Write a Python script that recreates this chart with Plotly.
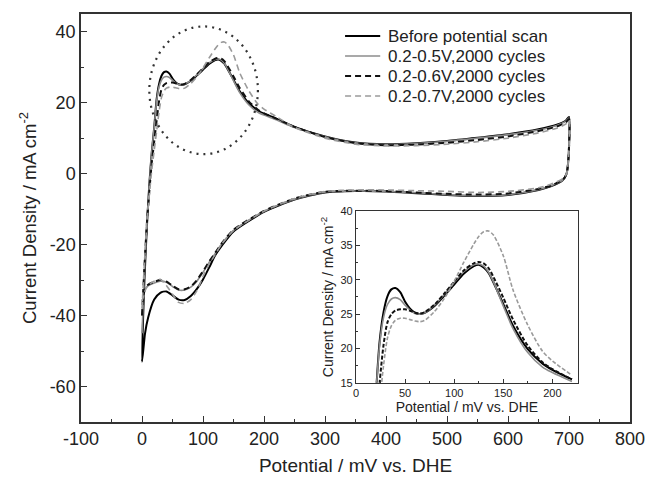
import plotly.graph_objects as go

# ---------------- data ----------------
E_ANODIC = [0, 4, 8, 12, 16, 20, 24, 28, 32, 36, 40, 45, 50, 55, 60, 65, 70, 80, 90,
            100, 110, 120, 125, 130, 135, 140, 150, 160, 175, 190, 200, 220, 250, 300,
            350, 400, 450, 500, 550, 600, 650, 680, 695, 700]
E_CATHODIC = [700, 699, 696, 690, 670, 650, 600, 550, 500, 450, 400, 350, 300, 250, 200, 150,
              130, 120, 110, 100, 90, 80, 70, 60, 50, 40, 30, 20, 10, 5, 0]

SERIES_NAMES = ["Before potential scan", "0.2-0.5V,2000 cycles",
                "0.2-0.6V,2000 cycles", "0.2-0.7V,2000 cycles"]

ANODIC_BEFORE = [-53, -30, -15, -3, 6, 13, 21, 25.3, 27.6, 28.6, 28.8, 28.2, 26.8, 25.8, 25.2,
                 25.0, 25.2, 26.2, 27.7, 29.3, 30.9, 32.0, 32.2, 31.8, 31.0, 29.6, 26.5, 23.3,
                 19.9, 17.8, 16.9, 15.5, 13.2, 10.5, 8.8, 8.3, 8.6, 9.2, 10.1, 11.1, 12.5, 13.8,
                 15.0, 16.0]
ANODIC_05 = [-45, -28, -14, -3, 6, 13, 20.5, 24.5, 26.4, 27.2, 27.4, 27.1, 26.3, 25.6, 25.1,
             25.0, 25.2, 26.3, 27.9, 29.6, 31.2, 32.2, 32.3, 32.0, 31.1, 29.7, 26.2, 22.9,
             19.4, 17.3, 16.5, 15.2, 13.0, 10.4, 8.7, 8.2, 8.5, 9.1, 10.0, 11.0, 12.3, 13.6,
             14.8, 15.7]
ANODIC_06 = [-40, -26, -14, -5, 3, 9, 15, 20.5, 23.8, 25.0, 25.5, 25.7, 25.7, 25.5, 25.2,
             25.1, 25.3, 26.4, 28.0, 29.7, 31.4, 32.4, 32.6, 32.4, 31.7, 30.4, 27.4, 24.2,
             20.4, 18.0, 17.0, 15.5, 13.2, 10.3, 8.6, 8.0, 8.2, 8.7, 9.5, 10.5, 12.0, 13.3,
             14.5, 15.4]
ANODIC_07 = [-38, -25, -14, -6, 1, 6.5, 12, 17.5, 21.5, 23.3, 24.1, 24.4, 24.4, 24.2, 24.0,
             23.9, 24.1, 25.4, 27.3, 29.8, 32.6, 35.2, 36.3, 37.0, 37.1, 36.5, 33.5, 28.5,
             23.4, 19.6, 18.2, 16.1, 13.0, 10.0, 8.3, 7.8, 7.9, 8.3, 9.0, 10.0, 11.5, 12.8,
             14.0, 15.0]

CATHODIC_BEFORE = [10, 4, 0, -1.8, -3.6, -4.6, -6.0, -6.3, -6.0, -5.5, -5.0, -4.9, -5.3, -7.3,
                   -10.8, -16.3, -20.5, -23.0, -26.5, -29.8, -32.5, -34.5, -35.6, -35.5, -34.3,
                   -33.2, -33.6, -35.5, -40.6, -45, -53]
CATHODIC_05 = [10, 4, 0, -1.8, -3.5, -4.5, -5.9, -6.2, -5.9, -5.4, -5.0, -4.9, -5.2, -7.2,
               -10.6, -16.0, -20.0, -22.5, -25.0, -27.8, -30.3, -32.0, -32.8, -32.8, -31.8,
               -30.6, -30.3, -30.8, -31.6, -32.5, -40]
CATHODIC_06 = [10, 4, 0, -1.7, -3.4, -4.3, -5.6, -5.9, -5.7, -5.3, -4.9, -4.8, -5.1, -7.0,
               -10.5, -15.8, -19.8, -22.3, -24.8, -27.5, -30.0, -31.8, -32.6, -32.6, -31.6,
               -30.4, -30.0, -30.5, -31.3, -32.3, -38]
CATHODIC_07 = [10, 4, 0, -1.4, -3.0, -4.0, -5.0, -5.3, -5.0, -4.8, -4.6, -4.6, -5.0, -7.0,
               -10.6, -16.0, -20.0, -22.8, -25.5, -29.0, -33.0, -35.5, -36.6, -36.3, -34.0,
               -31.5, -29.8, -30.3, -31.5, -33.0, -36]

ANODIC = [ANODIC_BEFORE, ANODIC_05, ANODIC_06, ANODIC_07]
CATHODIC = [CATHODIC_BEFORE, CATHODIC_05, CATHODIC_06, CATHODIC_07]

X_TICKS = [-100, 0, 100, 200, 300, 400, 500, 600, 700, 800]
Y_TICKS = [-60, -40, -20, 0, 20, 40]
INSET_X_TICKS = [0, 50, 100, 150, 200]
INSET_Y_TICKS = [15, 20, 25, 30, 35, 40]
INSET_MAX_E = 230

# highlight ellipse around the anodic peaks (data units)
HIGHLIGHT = dict(x0=12, x1=190, y0=5.5, y1=41.5)

# ---------------- styling ----------------
STYLES = [
    dict(color="#000000", width=2.0, dash="solid"),
    dict(color="#8c8c8c", width=1.6, dash="solid"),
    dict(color="#111111", width=2.0, dash="6px,4px"),
    dict(color="#9a9a9a", width=1.6, dash="6px,4px"),
]
INSET_DASH = ["solid", "solid", "4px,2px", "4px,2px"]
FONT = "Liberation Sans, Arial, sans-serif"
TXT = "#222222"

# manual legend placement (paper coordinates)
LEG_LINE_X = (0.481, 0.545)
LEG_TEXT_X = 0.556
LEG_TOP_Y = 0.946
LEG_STEP = 0.049


def labels(vals):
    return [str(v).replace("\u2212", "-") for v in vals]


fig = go.Figure()

for name, an, ca, st in zip(SERIES_NAMES, ANODIC, CATHODIC, STYLES):
    fig.add_trace(go.Scatter(
        x=E_ANODIC + E_CATHODIC[1:], y=an + ca[1:], mode="lines", name=name,
        line=dict(color=st["color"], width=st["width"], dash=st["dash"],
                  shape="spline", smoothing=0.6),
        xaxis="x", yaxis="y", showlegend=False))

for name, an, st, dsh in zip(SERIES_NAMES, ANODIC, STYLES, INSET_DASH):
    xs = [e for e in E_ANODIC if e <= INSET_MAX_E]
    ys = an[:len(xs)]
    fig.add_trace(go.Scatter(
        x=xs, y=ys, mode="lines", showlegend=False,
        line=dict(color=st["color"], width=st["width"], dash=dsh,
                  shape="spline", smoothing=0.8),
        xaxis="x2", yaxis="y2"))

fig.add_shape(type="circle", xref="x", yref="y", **HIGHLIGHT,
              line=dict(color="#333333", width=2.2, dash="2px,5px"))

# legend drawn by hand
for i, (name, st) in enumerate(zip(SERIES_NAMES, STYLES)):
    yy = LEG_TOP_Y - i * LEG_STEP
    fig.add_shape(type="line", xref="paper", yref="paper",
                  x0=LEG_LINE_X[0], x1=LEG_LINE_X[1], y0=yy, y1=yy,
                  line=dict(color=st["color"], width=st["width"], dash=st["dash"]))
    fig.add_annotation(xref="paper", yref="paper", x=LEG_TEXT_X, y=yy, text=name,
                       showarrow=False, xanchor="left", yanchor="middle",
                       font=dict(size=17, color=TXT))

axis_common = dict(showgrid=False, zeroline=False, showline=True, linecolor="#333333",
                   mirror=True, ticks="inside", tickcolor="#333333", automargin=False)

fig.update_layout(
    width=645, height=479,
    margin=dict(l=81, r=15, t=14, b=57),
    paper_bgcolor="white", plot_bgcolor="white",
    font=dict(family=FONT, color=TXT),
    xaxis=dict(**axis_common, range=[-100, 800], tickvals=X_TICKS, ticktext=labels(X_TICKS),
               linewidth=1.5, ticklen=6, tickwidth=1.2, tickfont=dict(size=18),
               ticklabeloverflow="allow",
               minor=dict(dtick=50, ticks="inside", ticklen=3, tickcolor="#333333"),
               title=dict(text="Potential / mV vs. DHE", font=dict(size=19), standoff=10)),
    yaxis=dict(**axis_common, range=[-70, 45], tickvals=Y_TICKS, ticktext=labels(Y_TICKS),
               linewidth=1.5, ticklen=6, tickwidth=1.2, tickfont=dict(size=18),
               minor=dict(dtick=10, ticks="inside", ticklen=3, tickcolor="#333333"),
               title=dict(text="Current Density / mA cm<sup>-2</sup>", font=dict(size=18.5),
                          standoff=8)),
    xaxis2=dict(**axis_common, domain=[0.501, 0.905], anchor="y2", range=[0, 226],
                tickvals=INSET_X_TICKS, linewidth=1.3, ticklen=4, tickfont=dict(size=11),
                minor=dict(dtick=25, ticks="inside", ticklen=2, tickcolor="#333333"),
                title=dict(text="Potential / mV vs. DHE", font=dict(size=14), standoff=1)),
    yaxis2=dict(**axis_common, domain=[0.096, 0.517], anchor="x2", range=[15, 40],
                tickvals=INSET_Y_TICKS, linewidth=1.3, ticklen=4, tickfont=dict(size=11),
                minor=dict(dtick=2.5, ticks="inside", ticklen=2, tickcolor="#333333"),
                title=dict(text="Current Density / mA cm<sup>-2</sup>", font=dict(size=14),
                           standoff=3)),
    showlegend=False,
)

fig.write_html("out.html")
